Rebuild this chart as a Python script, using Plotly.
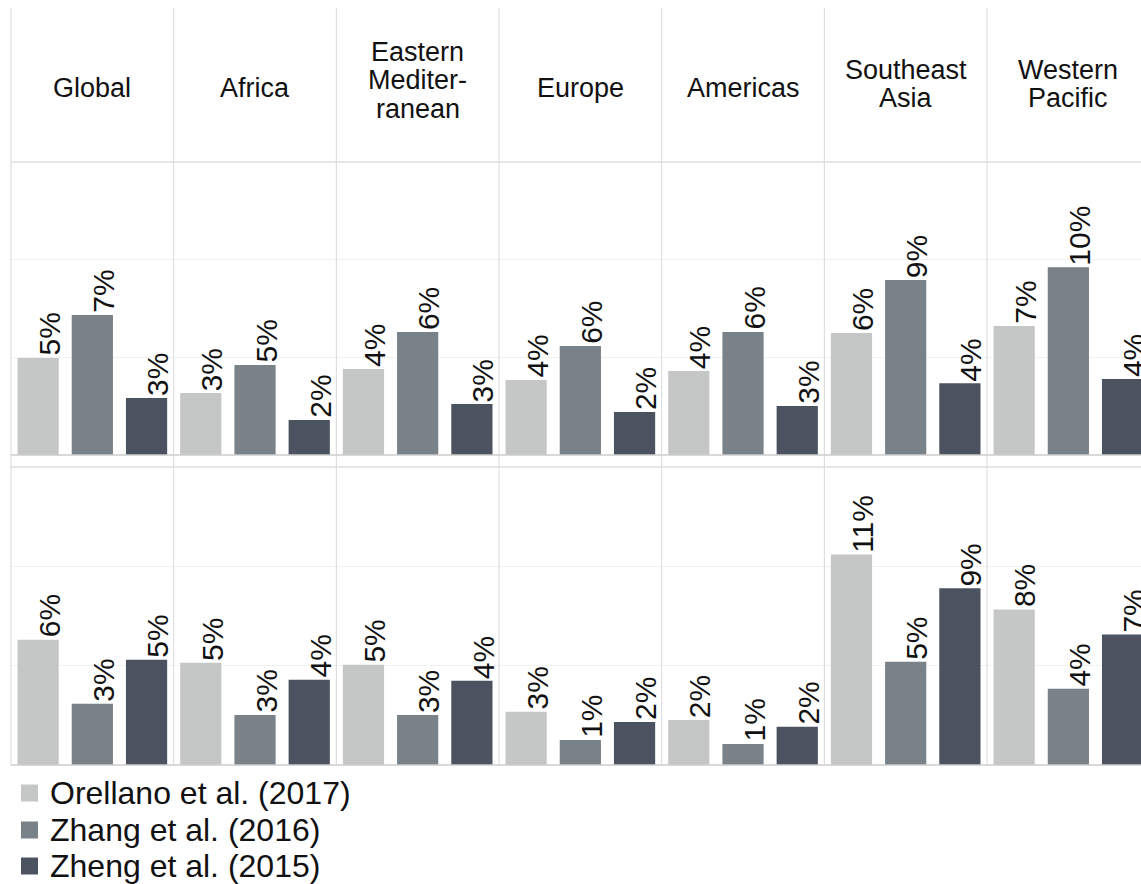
import plotly.graph_objects as go

# ---------------- data ----------------
regions = ["Global", "Africa", "Eastern<br>Mediter-<br>ranean", "Europe",
           "Americas", "Southeast<br>Asia", "Western<br>Pacific"]
studies = ["Orellano et al. (2017)", "Zhang et al. (2016)", "Zheng et al. (2015)"]
colors = ["#c5c7c6", "#788288", "#4b5260"]

# upper panel (%)
top_orellano = [4.97, 3.17, 4.40, 3.84, 4.30, 6.24, 6.60]
top_zhang = [7.17, 4.61, 6.30, 5.58, 6.30, 8.96, 9.61]
top_zheng = [2.92, 1.79, 2.61, 2.20, 2.51, 3.67, 3.89]
# lower panel (%)
bottom_orellano = [6.31, 5.15, 5.05, 2.68, 2.27, 10.60, 7.83]
bottom_zhang = [3.08, 2.52, 2.52, 1.26, 1.06, 5.20, 3.84]
bottom_zheng = [5.30, 4.29, 4.24, 2.17, 1.92, 8.90, 6.57]
y_range = [0, 15]
y_dtick = 5

# ---------------- layout geometry (pixels) ----------------
W, H = 1141, 884
col_left0 = 11.0
col_w = 162.67
header_top, header_bottom = 8, 162
rows_px = [(162, 455), (467, 765)]


def fx(px):
    return px / W


def fy(py):
    return 1 - py / H


fig = go.Figure()
layout = dict(width=W, height=H, margin=dict(l=0, r=0, t=0, b=0),
              paper_bgcolor="white", plot_bgcolor="white",
              barmode="overlay", showlegend=False,
              font=dict(family="Liberation Sans, Arial, sans-serif", color="#111111"))
annotations = []
shapes = []

panels = [[top_orellano, top_zhang, top_zheng],
          [bottom_orellano, bottom_zhang, bottom_zheng]]

k = 0
for r, series in enumerate(panels):
    ptop, pbot = rows_px[r]
    for c in range(len(regions)):
        k += 1
        xa = "x" if k == 1 else f"x{k}"
        ya = "y" if k == 1 else f"y{k}"
        left = col_left0 + c * col_w
        right = min(left + col_w, W)
        xr = [-0.5, -0.5 + 3 * (right - left) / col_w]
        vals = [s[c] for s in series]
        fig.add_trace(go.Bar(
            x=list(range(len(studies))), y=vals,
            marker=dict(color=colors, line=dict(width=0)),
            width=0.76, xaxis=xa, yaxis=ya, showlegend=False,
            hovertext=studies, hoverinfo="text+y"))
        layout["xaxis" if k == 1 else f"xaxis{k}"] = dict(
            domain=[fx(left), fx(right)], range=xr, anchor=ya,
            showgrid=False, zeroline=False, showticklabels=False,
            showline=False, ticks="", fixedrange=True)
        layout["yaxis" if k == 1 else f"yaxis{k}"] = dict(
            domain=[fy(pbot), fy(ptop)], range=y_range, anchor=xa,
            dtick=y_dtick, showgrid=True, gridcolor="#f1f1f1", gridwidth=1,
            zeroline=False, showticklabels=False, showline=False,
            ticks="", fixedrange=True)
        for i, v in enumerate(vals):
            annotations.append(dict(
                xref=xa, yref=ya, x=i, y=v, text=f"{round(v)}%",
                textangle=-90, showarrow=False, xanchor="center",
                yanchor="bottom", xshift=11, yshift=0,
                font=dict(size=30, color="#111111")))

# header labels (one annotation per line for tight line spacing)
line_gap = 28.5
for c, name in enumerate(regions):
    cx = col_left0 + c * col_w + col_w / 2
    lines = name.split("<br>")
    n = len(lines)
    c0 = 88 - 4 * (n - 1)
    for j, ln in enumerate(lines):
        cy = c0 + (j - (n - 1) / 2) * line_gap
        annotations.append(dict(
            xref="paper", yref="paper", x=fx(cx), y=fy(cy),
            text=ln, showarrow=False, xanchor="center", yanchor="middle",
            font=dict(size=27, color="#111111")))

# separators
for c in range(len(regions)):
    x = col_left0 + c * col_w
    shapes.append(dict(type="line", xref="paper", yref="paper",
                       x0=fx(x), x1=fx(x), y0=fy(header_top), y1=fy(rows_px[1][1]),
                       line=dict(color="#d9d9d9", width=1)))
for py, colr in [(header_bottom, "#dedede"), (rows_px[0][1], "#cccccc"),
                 (rows_px[1][0], "#dedede"), (rows_px[1][1], "#cccccc")]:
    shapes.append(dict(type="line", xref="paper", yref="paper",
                       x0=fx(col_left0), x1=1, y0=fy(py), y1=fy(py),
                       line=dict(color=colr, width=1.5)))

# legend (manual)
leg_y = [793, 830, 866]
for name, col, yy in zip(studies, colors, leg_y):
    shapes.append(dict(type="rect", xref="paper", yref="paper",
                       x0=fx(21), x1=fx(38), y0=fy(yy - 8.5), y1=fy(yy + 8.5),
                       fillcolor=col, line=dict(width=0)))
    annotations.append(dict(xref="paper", yref="paper", x=fx(48), y=fy(yy),
                            text=name, showarrow=False, xanchor="left",
                            yanchor="middle", font=dict(size=32, color="#111111")))

layout["annotations"] = annotations
layout["shapes"] = shapes
fig.update_layout(**layout)
fig.write_html("out.html", config={"displayModeBar": False},
               post_script="document.body.style.margin='0';"
                           "document.body.style.overflow='hidden';")
